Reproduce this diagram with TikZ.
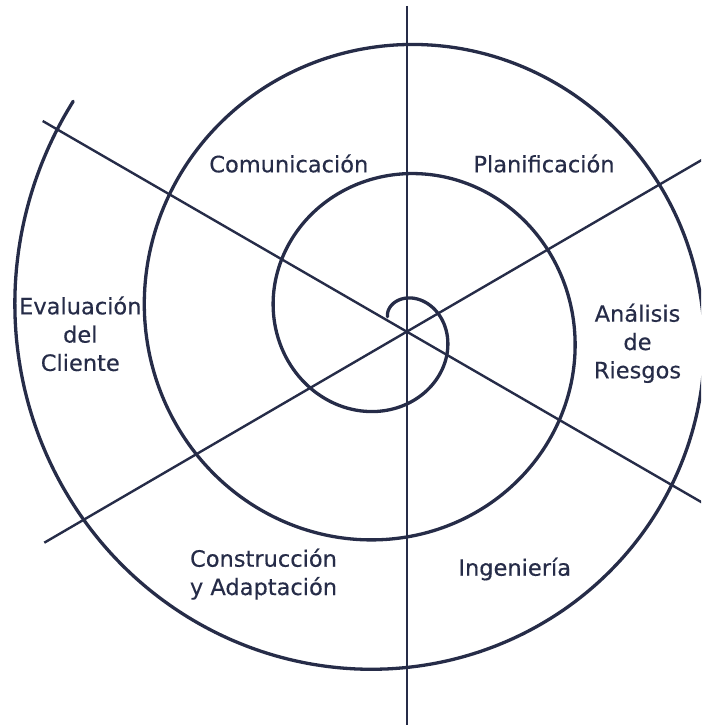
\documentclass[tikz,border=0pt]{standalone}
\usepackage{fontspec}
\setmainfont[FakeBold=0.4]{DejaVu Sans}
\definecolor{ink}{RGB}{38,44,72}
\tikzset{
  axisline/.style={draw=ink, line width=2.4pt},
  spiralline/.style={draw=ink, line width=3.3pt, line cap=round, line join=round},
  lbl/.style={text=ink, font=\fontsize{22.5}{28.3}\selectfont, align=center, inner sep=0pt, anchor=base}
}
\begin{document}
\begin{tikzpicture}[x=1pt,y=-1pt]
\useasboundingbox (0,0) rectangle (701,725);
\clip (0,0) rectangle (701,725);
% centre and line ends
\coordinate (c) at (406.7,331.7);
\coordinate (vtop) at (406.7,6);
\coordinate (vbot) at (406.7,726);
\coordinate (d1a) at (42.7,121);
\coordinate (d1b) at (702,502.5);
\coordinate (d2a) at (44.3,542.7);
\coordinate (d2b) at (702,159.8);
% spiral
\draw[spiralline] plot[smooth, samples=400, domain=0:1055, variable=\t]
  ({392+(9+0.3604*\t)*cos(120-\t)}, {324.5-(9+0.3604*\t)*sin(120-\t)});
% axes
\draw[axisline] (vtop) -- (vbot);
\draw[axisline] (d1a) -- (d1b);
\draw[axisline] (d2a) -- (d2b);
% labels (multi-line nodes: base anchor = last line's baseline)
\node[lbl] (com) at (288.8,172.3) {Comunicación};
\node[lbl] (pla) at (544,172.3) {Planificación};
\node[lbl] (ana) at (637.5,378.3) {Análisis\\de\\Riesgos};
\node[lbl] (eva) at (80.3,370.9) {Evaluación\\del\\Cliente};
\node[lbl] (con) at (263.5,595) {Construcción\\y Adaptación};
\node[lbl] (ing) at (514.7,575.7) {Ingeniería};
\end{tikzpicture}
\end{document}
